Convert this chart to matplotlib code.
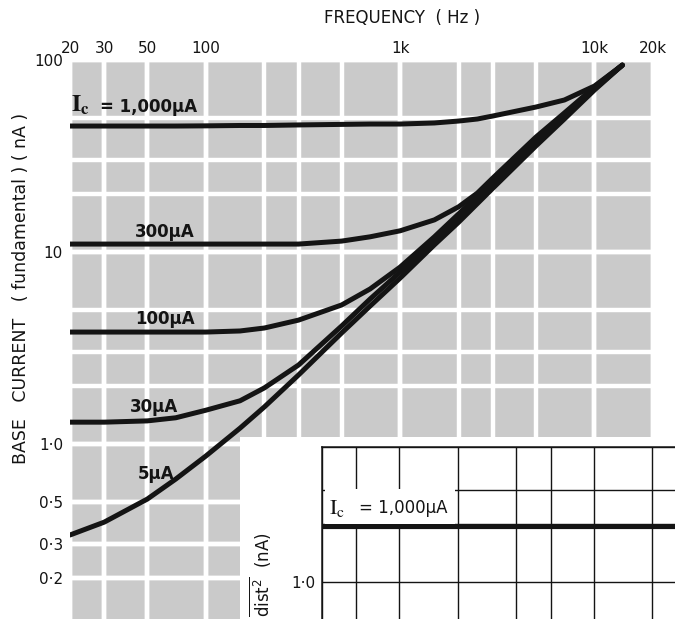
import matplotlib

matplotlib.use("Agg")  # headless: render to file only
import matplotlib.pyplot as plt
from matplotlib.patches import Rectangle
from matplotlib.ticker import NullFormatter

W, H = 675, 619  # output size in pixels (dpi 100)

# --------------------------------------------------------------------------- #
# values: base current (nA) vs frequency (Hz), per I_c       #
# --------------------------------------------------------------------------- #
FREQ_HZ = [20, 30, 50, 70, 100, 150, 200, 300, 500, 700,
           1000, 1500, 2000, 2500, 3000, 5000, 7000, 10000, 13900]

IB_1000UA = [45.3, 45.3, 45.3, 45.3, 45.4, 45.6, 45.6, 45.9, 46.2, 46.4,
             46.4, 47.0, 48.1, 49.3, 51.1, 56.9, 61.9, 73.2, 94.0]
IB_300UA = [11.0, 11.0, 11.0, 11.0, 11.0, 11.0, 11.0, 11.0, 11.4, 12.0,
            12.9, 14.7, 17.2, 20.3, 24.3, 39.7, 53.0, 72.3, 94.0]
IB_100UA = [3.83, 3.83, 3.83, 3.83, 3.83, 3.88, 4.02, 4.42, 5.30, 6.42,
            8.35, 12.0, 15.8, 19.6, 23.2, 38.3, 51.7, 71.5, 94.0]
IB_30UA = [1.30, 1.30, 1.32, 1.37, 1.50, 1.68, 1.96, 2.58, 4.12, 5.69,
           7.87, 11.4, 15.0, 18.7, 22.3, 37.0, 50.5, 70.6, 94.0]
IB_5UA = [0.336, 0.392, 0.517, 0.657, 0.866, 1.21, 1.56, 2.29, 3.79, 5.23,
          7.32, 10.9, 14.3, 17.9, 21.5, 35.7, 49.3, 69.8, 94.0]

# grid + tick labels of the main chart
FREQ_GRID = [20, 30, 50, 100, 200, 300, 500, 1000, 2000, 3000, 5000, 10000, 20000]
FREQ_TICKS = [20, 30, 50, 100, 1000, 10000, 20000]
FREQ_LABELS = ["20", "30", "50", "100", "1k", "10k", "20k"]
IB_GRID = [0.2, 0.3, 0.5, 1, 2, 3, 5, 10, 20, 30, 50, 100]
IB_TICKS = [0.2, 0.3, 0.5, 1, 10, 100]
IB_LABELS = ["0·2", "0·3", "0·5", "1·0", "10", "100"]

# the next figure's top edge, which shows at the bottom right of the scan
INSET_FREQ_HZ = [200, 500, 1000, 2000, 5000, 10000, 13100]
INSET_DIST_1000UA = [1.93, 1.93, 1.93, 1.93, 1.93, 1.93, 1.93]
INSET_FREQ_GRID = [200, 300, 500, 1000, 2000, 3000, 5000, 10000]
INSET_GRID = [1, 2, 3, 5]


def fx(x_px: float) -> float:
    return x_px / W


def fy(y_px: float) -> float:
    return 1 - y_px / H


plt.rcParams["font.family"] = ["DejaVu Sans"]
plt.rcParams["mathtext.fontset"] = "stix"
INK = "#141414"

fig = plt.figure(figsize=(W / 100, H / 100), dpi=100)
fig.patch.set_facecolor("white")

# --- main chart ------------------------------------------------------------ #
ax = fig.add_axes([fx(70), 0, (653 - 70) / W, (619 - 60) / H])
ax.set_xscale("log")
ax.set_yscale("log")
ax.set_xlim(20, 20000)
ax.set_ylim(0.1227, 100)
ax.set_facecolor("#cacaca")
for sp in ax.spines.values():
    sp.set_visible(False)

ax.xaxis.remove_overlapping_locs = False
ax.yaxis.remove_overlapping_locs = False
ax.set_xticks(FREQ_GRID, minor=True)
ax.set_yticks(IB_GRID, minor=True)
ax.set_xticks(FREQ_TICKS, FREQ_LABELS)
ax.set_yticks(IB_TICKS, IB_LABELS)
ax.xaxis.set_minor_formatter(NullFormatter())
ax.yaxis.set_minor_formatter(NullFormatter())
ax.xaxis.tick_top()
ax.tick_params(which="both", length=0, labelsize=11, colors=INK)
ax.tick_params(axis="x", pad=3)
ax.tick_params(axis="y", pad=5)
ax.grid(which="both", color="white", lw=3.2)
ax.set_axisbelow(True)

for vals in (IB_1000UA, IB_300UA, IB_100UA, IB_30UA, IB_5UA):
    ax.plot(FREQ_HZ, vals, color=INK, lw=3.6,
            solid_capstyle="round", solid_joinstyle="round")

# curve labels
fig.text(fx(71), fy(112), r"$\mathbf{I}_{\mathbf{c}}$", fontsize=17, color=INK,
         va="baseline")
fig.text(fx(100), fy(112), "= 1,000μA", fontsize=12, fontweight="bold",
         color=INK, va="baseline")
for text, x_px, base_px in (("300μA", 135, 237), ("100μA", 135, 324),
                            ("30μA", 130, 412), ("5μA", 138, 479)):
    fig.text(fx(x_px), fy(base_px), text, fontsize=12, fontweight="bold",
             color=INK, va="baseline")

fig.text(fx(402), fy(18), "FREQUENCY  ( Hz )", fontsize=12, color=INK,
         ha="center", va="center")
fig.text(fx(21), fy(288), "BASE   CURRENT   ( fundamental ) ( nA )",
         fontsize=12.5, color=INK, rotation=90, ha="center", va="center")

# white paper where the next figure begins
fig.add_artist(Rectangle((fx(240), 0), (675 - 240) / W, (619 - 437) / H,
                         transform=fig.transFigure, fc="white", ec="none",
                         zorder=1))

# --- bottom-right inset (top of the following figure) --------------------- #
ins = fig.add_axes([fx(322), 0, (675 - 322) / W, (619 - 447) / H], zorder=2)
ins.set_xscale("log")
ins.set_yscale("log")
ins.set_xlim(200, 13100)
ins.set_ylim(0.641, 5.0)
ins.set_facecolor("white")
ins.spines[["right", "bottom"]].set_visible(False)
for side in ("top", "left"):
    ins.spines[side].set_linewidth(1.1)
    ins.spines[side].set_color(INK)
ins.xaxis.remove_overlapping_locs = False
ins.set_xticks(INSET_FREQ_GRID, [""] * len(INSET_FREQ_GRID))
ins.set_xticks([], minor=True)
ins.set_yticks(INSET_GRID, ["1·0", "", "", ""])
ins.set_yticks([], minor=True)
ins.tick_params(which="both", length=0, labelsize=11, colors=INK, pad=5)
ins.grid(which="major", color=INK, lw=1.0)
ins.set_axisbelow(True)
ins.add_patch(Rectangle((0.008, 0.555), 0.37, 0.20, transform=ins.transAxes,
                        fc="white", ec="none", zorder=1))
ins.plot(INSET_FREQ_HZ, INSET_DIST_1000UA, color=INK, lw=3.0, zorder=3)

fig.text(fx(329), fy(514), r"$\mathrm{I}_{\mathrm{c}}$", fontsize=16, color=INK,
         va="baseline", zorder=4)
fig.text(fx(359), fy(513), "= 1,000μA", fontsize=12, color=INK,
         va="baseline", zorder=4)
fig.text(fx(261), fy(617), r"$\overline{\mathrm{dist}^2}$  (nA)", fontsize=12,
         color=INK, rotation=90, ha="center", va="bottom", zorder=4,
         math_fontfamily="dejavusans")

fig.savefig("out.png", dpi=100)
plt.close(fig)
